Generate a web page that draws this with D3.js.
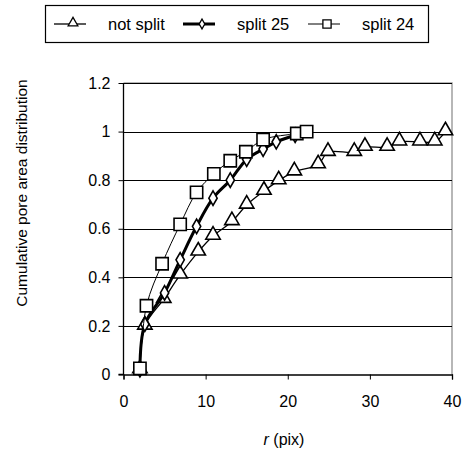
<!DOCTYPE html>
<meta charset="utf-8">
<style>
    body { margin: 0; background: #fff; }
    text { font-family: "Liberation Sans", Arial, sans-serif; fill: #000; }
    .grid line { stroke: #000; stroke-width: 1; }
</style>
<svg width="464" height="452"></svg>
<script src="https://d3js.org/d3.v7.min.js"></script>
<script>

    // r (pix) values and cumulative fractions
    var notSplitR = [2, 2.6, 4.9, 6.9, 9.1, 10.9, 13.2, 15, 17.1, 18.9, 20.8, 23.7, 24.9, 28.1, 29.4, 32.1, 33.6, 36.1, 37.9, 39.2];
    var notSplitY = [0.02, 0.2, 0.31, 0.41, 0.505, 0.57, 0.63, 0.698, 0.755, 0.798, 0.835, 0.864, 0.915, 0.915, 0.936, 0.936, 0.958, 0.958, 0.958, 1.0];

    var split25R = [2, 2.6, 5, 6.9, 8.9, 10.9, 13, 15, 17, 18.6, 20.9];
    var split25Y = [0.02, 0.207, 0.336, 0.472, 0.61, 0.726, 0.8, 0.886, 0.928, 0.958, 0.985];

    var split24R = [2, 2.8, 4.7, 6.9, 8.9, 11, 13, 14.9, 17, 21.1, 22.3];
    var split24Y = [0.025, 0.283, 0.456, 0.618, 0.75, 0.826, 0.88, 0.917, 0.967, 0.992, 1.0];

    var xTicks = [0, 10, 20, 30, 40];
    var yTicks = [0, 0.2, 0.4, 0.6, 0.8, 1, 1.2];
    var seriesNames = ["not split", "split 25", "split 24"];

    var svg = d3.select("svg");

    var plotL = 123.5, plotR = 452, plotT = 83, plotB = 374.5;

    var x = d3.scaleLinear().domain([0, 40]).range([plotL, plotR]);
    var y = d3.scaleLinear().domain([0, 1.2]).range([plotB, plotT]);

    // plot frame (light grey top and right)
    svg.append("path")
        .attr("d", "M" + plotL + "," + plotT + "H" + plotR + "V" + plotB)
        .attr("fill", "none")
        .attr("stroke", "#a0a0a0")
        .attr("stroke-width", 1.5);

    // horizontal gridlines
    svg.append("g")
        .attr("class", "grid")
        .selectAll("line")
        .data(yTicks.slice(1))
        .enter()
        .append("line")
        .attr("x1", plotL)
        .attr("x2", plotR)
        .attr("y1", function(d) { return Math.round(y(d)) + 0.5; })
        .attr("y2", function(d) { return Math.round(y(d)) + 0.5; });

    // axes
    var yAxis = svg.append("g")
        .attr("transform", "translate(" + plotL + ",0)")
        .call(d3.axisLeft(y).tickValues(yTicks).tickSize(5).tickPadding(8)
            .tickFormat(function(d) { return String(+d.toFixed(1)); }));
    var xAxis = svg.append("g")
        .attr("transform", "translate(0," + plotB + ")")
        .call(d3.axisBottom(x).tickValues(xTicks).tickSize(5).tickPadding(16));

    [xAxis, yAxis].forEach(function(a) {
        a.attr("font-size", 16).attr("font-family", "Liberation Sans, Arial, sans-serif");
        a.select(".domain").attr("stroke", "#000").attr("stroke-width", 1.3);
        a.selectAll(".tick line").attr("stroke", "#000");
        a.selectAll("text").attr("fill", "#000");
    });
    yAxis.select(".domain").attr("d", "M-5," + plotB + "H0V" + plotT);

    // axis titles
    svg.append("text")
        .attr("transform", "translate(27,193) rotate(-90)")
        .attr("text-anchor", "middle")
        .attr("font-size", 15.5)
        .text("Cumulative pore area distribution");

    var xt = svg.append("text")
        .attr("x", 284)
        .attr("y", 445)
        .attr("text-anchor", "middle")
        .attr("font-size", 16);
    xt.append("tspan").attr("font-style", "italic").text("r");
    xt.append("tspan").text(" (pix)");

    // series
    var series = [
        { name: seriesNames[0], r: notSplitR, v: notSplitY, width: 1.3, sym: d3.symbolTriangle, size: 90 },
        { name: seriesNames[1], r: split25R, v: split25Y, width: 3, sym: d3.symbolDiamond, size: 60 },
        { name: seriesNames[2], r: split24R, v: split24Y, width: 1, sym: d3.symbolSquare, size: 150 }
    ];

    var line = d3.line()
        .x(function(d) { return x(d[0]); })
        .y(function(d) { return y(d[1]); })
        .curve(d3.curveCatmullRom.alpha(0.5));

    series.forEach(function(s) {
        var pts = s.r.map(function(r, i) { return [r, s.v[i]]; });
        var g = svg.append("g");
        g.append("path")
            .datum(pts)
            .attr("d", line)
            .attr("fill", "none")
            .attr("stroke", "#000")
            .attr("stroke-width", s.width);
        g.selectAll("path.mark")
            .data(pts)
            .enter()
            .append("path")
            .attr("class", "mark")
            .attr("d", d3.symbol().type(s.sym).size(s.size))
            .attr("transform", function(d) {
                var dy = s.sym === d3.symbolTriangle ? -1 : 0;
                return "translate(" + x(d[0]) + "," + (y(d[1]) + dy) + ")";
            })
            .attr("fill", "#fff")
            .attr("stroke", "#000")
            .attr("stroke-width", 1.6);
    });

    // legend
    var legend = svg.append("g");
    legend.append("rect")
        .attr("x", 45.5)
        .attr("y", 5.5)
        .attr("width", 383)
        .attr("height", 37)
        .attr("fill", "#fff")
        .attr("stroke", "#000")
        .attr("stroke-width", 1.2);

    var legendX = [54, 183, 308];
    series.forEach(function(s, i) {
        var lx = legendX[i];
        var ly = 24;
        legend.append("line")
            .attr("x1", lx).attr("x2", lx + 32)
            .attr("y1", ly).attr("y2", ly)
            .attr("stroke", "#000")
            .attr("stroke-width", s.width);
        legend.append("path")
            .attr("d", d3.symbol().type(s.sym).size(s.size * 0.45))
            .attr("transform", "translate(" + (lx + 19) + "," + (ly - (s.sym === d3.symbolTriangle ? 1 : 0)) + ")")
            .attr("fill", "#fff")
            .attr("stroke", "#000")
            .attr("stroke-width", 1.3);
        legend.append("text")
            .attr("x", lx + 54)
            .attr("y", ly + 6)
            .attr("font-size", 16.5)
            .text(s.name);
    });

</script>
